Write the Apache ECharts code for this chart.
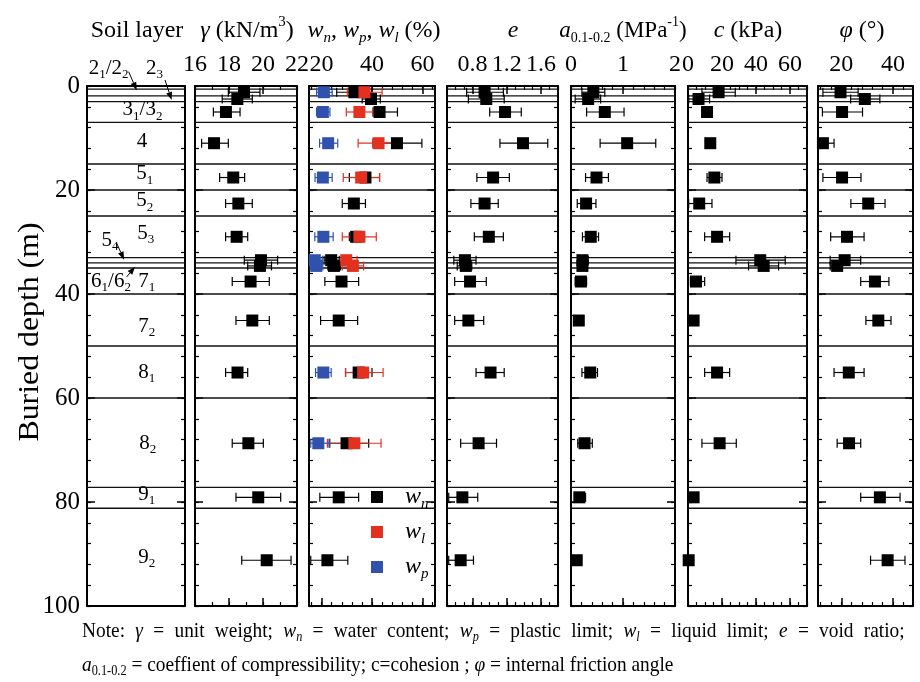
<!DOCTYPE html>
<html>
<head>
<meta charset="utf-8">
<script src="https://cdn.jsdelivr.net/npm/echarts@6.0.0/dist/echarts.min.js"></script>
<style>
html,body{margin:0;padding:0;background:#fff;}
#chart{width:920px;height:682px;}
</style>
</head>
<body>
<div id="chart"></div>
<script>
// ================= DATA =================
const depths = [1.2, 2.5, 5, 11, 17.6, 22.6, 29, 33.5, 34.6, 37.6, 45.1, 55.1, 68.7, 79.1, 91.2];

const gammaVal = [18.88, 18.49, 17.82, 17.12, 18.25, 18.55, 18.45, 19.88, 19.82, 19.27, 19.37, 18.50, 19.14, 19.72, 20.22];
const gammaLo  = [17.96, 17.60, 17.08, 16.39, 17.45, 17.80, 17.80, 18.90, 19.10, 18.19, 18.41, 17.80, 18.19, 18.41, 18.75];
const gammaHi  = [19.82, 19.37, 18.65, 17.96, 18.92, 19.37, 19.10, 20.86, 20.50, 20.37, 20.37, 19.10, 20.02, 21.04, 21.65];

const wnVal = [33.0, 39.6, 43.0, 49.9, 37.4, 32.8, 33.7, 23.8, 24.9, 27.9, 26.8, 34.7, 29.9, 26.8, 22.3];
const wnLo  = [26.0, 36.1, 40.4, 40.4, 31.0, 28.2, 31.0, 21.0, 22.5, 21.3, 19.6, 29.5, 23.0, 19.3, 15.7];
const wnHi  = [40.0, 43.3, 50.1, 59.8, 43.0, 37.4, 37.0, 27.0, 27.5, 34.7, 34.3, 40.0, 38.7, 34.7, 30.4];

const wlVal = [37.0, null, 35.0, 42.6, 35.7, null, 35.0, 29.8, 32.4, null, null, 36.5, 33.0, null, null];
const wlLo  = [30.2, null, 29.8, 34.5, 28.6, null, 28.2, 25.1, 28.2, null, null, 29.5, 22.3, null, null];
const wlHi  = [44.0, null, 40.4, 50.8, 43.0, null, 41.7, 34.1, 36.7, null, null, 44.4, 43.6, null, null];

const wpVal = [20.9, null, 20.5, 22.6, 20.5, null, 20.7, 17.3, 17.9, null, null, 20.7, 18.7, null, null];
const wpLo  = [18.0, null, 18.0, 19.2, 17.4, null, 17.3, 15.3, 15.5, null, null, 17.6, 15.7, null, null];
const wpHi  = [24.2, null, 23.3, 26.4, 24.2, null, 24.6, 20.3, 20.5, null, null, 23.8, 23.3, null, null];

const eVal = [0.94, 0.96, 1.18, 1.39, 1.04, 0.94, 0.99, 0.71, 0.72, 0.77, 0.75, 1.01, 0.87, 0.68, 0.66];
const eLo  = [0.73, 0.75, 1.00, 1.12, 0.85, 0.78, 0.82, 0.58, 0.62, 0.59, 0.59, 0.84, 0.66, 0.52, 0.52];
const eHi  = [1.16, 1.17, 1.37, 1.68, 1.23, 1.10, 1.16, 0.84, 0.79, 0.96, 0.93, 1.17, 1.08, 0.86, 0.81];

const aVal = [0.43, 0.33, 0.65, 1.08, 0.49, 0.29, 0.38, 0.22, 0.22, 0.19, 0.15, 0.37, 0.26, 0.16, 0.11];
const aLo  = [0.21, 0.08, 0.30, 0.56, 0.28, 0.12, 0.22, 0.15, 0.15, 0.08, 0.12, 0.21, 0.13, 0.08, 0.05];
const aHi  = [0.65, 0.57, 1.02, 1.63, 0.72, 0.48, 0.53, 0.33, 0.30, 0.30, 0.18, 0.51, 0.41, 0.28, 0.14];

const cVal = [18.0, 6.2, 11.2, 13.1, 15.5, 6.6, 17.1, 42.5, 44.5, 4.7, 3.3, 17.1, 18.6, 3.3, 0.4];
const cLo  = [8.2, 0.4, 10.6, 12.6, 11.2, 0.4, 9.8, 28.2, 35.6, 1.4, 1.3, 9.8, 8.2, 1.5, 0.0];
const cHi  = [27.8, 12.7, 11.8, 13.6, 20.0, 14.1, 24.5, 57.2, 53.3, 9.8, 5.3, 24.5, 28.4, 5.0, 0.8];

const phiVal = [19.7, 29.1, 20.3, 12.9, 20.3, 30.4, 22.2, 21.3, 18.4, 33.0, 34.3, 22.9, 23.0, 34.9, 37.9];
const phiLo  = [12.9, 23.6, 12.7, 11.0, 12.9, 23.7, 15.9, 15.7, 15.7, 27.5, 29.5, 17.2, 18.4, 27.5, 31.3];
const phiHi  = [26.5, 34.9, 28.2, 17.2, 27.6, 36.9, 28.8, 27.5, 20.4, 38.4, 39.2, 28.8, 27.5, 42.7, 44.6];

const layerBoundaries = [0.6, 1.9, 3.0, 7, 15, 20, 25, 33, 34, 35, 40, 50, 60, 77.2, 81.2];
const layerNames = ['2{s|1}{n|/2}{s|2}', '2{s|3}', '3{s|1}{n|/3}{s|2}', '4', '5{s|1}', '5{s|2}', '5{s|3}', '5{s|4}',
                    '6{s|1}{n|/6}{s|2}', '7{s|1}', '7{s|2}', '8{s|1}', '8{s|2}', '9{s|1}', '9{s|2}'];
const layerNameDepth = [-3.4, -3.4, 4.6, 10.7, 16.9, 22.1, 28.3, 29.7, 37.6, 37.6, 46.3, 55.1, 68.8, 78.5, 90.6];

const depthTicks = [0, 20, 40, 60, 80, 100];
const gammaTicks = [16, 18, 20, 22];
const wTicks = [20, 40, 60];
const eTicks = [0.8, 1.2, 1.6];
const aTicks = [0, 1, 2];
const cTicks = [0, 20, 40, 60];
const phiTicks = [20, 40];

// ================= LAYOUT / STYLE =================
const FONT = '"Liberation Serif","Times New Roman",serif';
const TOP = 86, HEIGHT = 520;
const RED = '#e3301f', BLUE = '#3052ad', BLACK = '#000';

function seq(a, b, s) { const r = []; for (let v = a; v <= b + 1e-9; v += s) r.push(+v.toFixed(6)); return r; }

function richSet(fs, spacePad) {
  const T = fs + 12, nc = 6 + fs / 2;
  const sfs = Math.round(fs * 0.62);
  const subTop = nc + 0.30 * fs - sfs / 2;
  const supTop = nc - 0.38 * fs - sfs / 2;
  const base = { fontFamily: FONT, color: '#000', fill: '#000' };
  const sp = spacePad || 0;
  return {
    n: Object.assign({}, base, { fontSize: fs, lineHeight: fs, padding: [6, 0, 6, 0] }),
    i: Object.assign({}, base, { fontSize: fs, fontStyle: 'italic', lineHeight: fs, padding: [6, 0, 6, 0] }),
    sp: Object.assign({}, base, { fontSize: fs, lineHeight: fs, padding: [6, sp, 6, sp] }),
    s: Object.assign({}, base, { fontSize: sfs, lineHeight: sfs, padding: [subTop, 0, T - sfs - subTop, 0] }),
    si: Object.assign({}, base, { fontSize: sfs, fontStyle: 'italic', lineHeight: sfs, padding: [subTop, 0, T - sfs - subTop, 0] }),
    p: Object.assign({}, base, { fontSize: sfs, lineHeight: sfs, padding: [supTop, 0, T - sfs - supTop, 0] })
  };
}

const panels = [
  { left: 87, width: 98, min: 0, max: 1, labels: [], minors: [], ticks: false },
  { left: 195, width: 102, min: 16, max: 22, labels: gammaTicks, minors: seq(16, 22, 1), ticks: true },
  { left: 309, width: 126, min: 15, max: 65, labels: wTicks, minors: seq(16, 64, 4), ticks: true },
  { left: 447, width: 111, min: 0.5, max: 1.8, labels: eTicks, minors: seq(0.5, 1.8, 0.1), ticks: true },
  { left: 571, width: 104, min: 0, max: 2, labels: aTicks, minors: seq(0, 2, 0.2), ticks: true },
  { left: 688, width: 119, min: 0, max: 70, labels: cTicks, minors: seq(0, 70, 5), ticks: true },
  { left: 818, width: 95, min: 11, max: 47.7, labels: phiTicks, minors: seq(12, 44, 4), ticks: true }
];

const grids = [], xAxes = [], yAxes = [], series = [];
const xIdx = [], yIdx = [];

panels.forEach((p, g) => {
  grids.push({ left: p.left, top: TOP, width: p.width, height: HEIGHT, containLabel: false, outerBoundsMode: 'none' });
  const xb = { gridIndex: g, type: 'value', min: p.min, max: p.max, splitLine: { show: false } };
  xIdx.push(xAxes.length);
  ['top', 'bottom'].forEach(pos => {
    xAxes.push(Object.assign({}, xb, {
      position: pos,
      axisLine: { show: true, onZero: false, lineStyle: { color: '#000', width: 2 } },
      axisTick: { show: p.ticks, inside: true, length: 8, customValues: p.labels, lineStyle: { color: '#000', width: 1.5 } },
      axisLabel: { show: p.ticks && pos === 'top', customValues: p.labels, margin: 9, fontSize: 24, fontFamily: FONT, color: '#000', showMinLabel: true, showMaxLabel: true }
    }));
    xAxes.push(Object.assign({}, xb, {
      position: pos,
      axisLine: { show: false, onZero: false },
      axisTick: { show: p.ticks, inside: true, length: 4, customValues: p.minors, lineStyle: { color: '#000', width: 1.2 } },
      axisLabel: { show: false }
    }));
  });
  const yb = { gridIndex: g, type: 'value', min: 0, max: 100, inverse: true, splitLine: { show: false } };
  yIdx.push(yAxes.length);
  ['left', 'right'].forEach(pos => {
    yAxes.push(Object.assign({}, yb, {
      position: pos,
      axisLine: { show: true, onZero: false, lineStyle: { color: '#000', width: 2 } },
      axisTick: { show: true, inside: true, length: 8, customValues: depthTicks, lineStyle: { color: '#000', width: 1.5 } },
      axisLabel: { show: g === 0 && pos === 'left', customValues: depthTicks, margin: 7, fontSize: 25, fontFamily: FONT, color: '#000', showMinLabel: true, showMaxLabel: true }
    }));
    yAxes.push(Object.assign({}, yb, {
      position: pos,
      axisLine: { show: false, onZero: false },
      axisTick: { show: true, inside: true, length: 4, customValues: seq(0, 100, 4), lineStyle: { color: '#000', width: 1.2 } },
      axisLabel: { show: false }
    }));
  });

  // layer boundary lines
  series.push({
    type: 'custom', xAxisIndex: xIdx[g], yAxisIndex: yIdx[g], silent: true, z: 1,
    data: layerBoundaries.map(d => [p.min, d]),
    encode: { x: 0, y: 1 },
    renderItem: function (params, api) {
      const cs = params.coordSys;
      const y = api.coord([api.value(0), api.value(1)])[1];
      return { type: 'line', shape: { x1: cs.x, y1: y, x2: cs.x + cs.width, y2: y }, style: { stroke: '#111', lineWidth: 1.3 } };
    }
  });
});

function addPoints(g, val, lo, hi, color, name) {
  const errData = [], ptData = [];
  depths.forEach((d, k) => {
    if (val[k] == null) return;
    errData.push([lo[k], hi[k], d]);
    ptData.push([val[k], d]);
  });
  series.push({
    type: 'custom', name: name + '-err', xAxisIndex: xIdx[g], yAxisIndex: yIdx[g], silent: true, z: 2, clip: true,
    data: errData, encode: { x: [0, 1], y: 2 },
    renderItem: function (params, api) {
      const p1 = api.coord([api.value(0), api.value(2)]);
      const p2 = api.coord([api.value(1), api.value(2)]);
      const h = 4.5, st = { stroke: color, lineWidth: 1.2 };
      return { type: 'group', children: [
        { type: 'line', shape: { x1: p1[0], y1: p1[1], x2: p2[0], y2: p2[1] }, style: st },
        { type: 'line', shape: { x1: p1[0], y1: p1[1] - h, x2: p1[0], y2: p1[1] + h }, style: st },
        { type: 'line', shape: { x1: p2[0], y1: p2[1] - h, x2: p2[0], y2: p2[1] + h }, style: st }
      ] };
    }
  });
  series.push({
    type: 'scatter', name: name, xAxisIndex: xIdx[g], yAxisIndex: yIdx[g], z: 3, silent: true,
    symbol: 'rect', symbolSize: 12, itemStyle: { color: color, opacity: 1 },
    data: ptData
  });
}

addPoints(1, gammaVal, gammaLo, gammaHi, BLACK, 'gamma');
addPoints(2, wnVal, wnLo, wnHi, BLACK, 'wn');
addPoints(2, wlVal, wlLo, wlHi, RED, 'wl');
addPoints(2, wpVal, wpLo, wpHi, BLUE, 'wp');
addPoints(3, eVal, eLo, eHi, BLACK, 'e');
addPoints(4, aVal, aLo, aHi, BLACK, 'a');
addPoints(5, cVal, cLo, cHi, BLACK, 'c');
addPoints(6, phiVal, phiLo, phiHi, BLACK, 'phi');

// soil layer names (placed through the soil panel's scales)
const layerLabelX = [0.22, 0.69, 0.566, 0.56, 0.59, 0.59, 0.60, 0.235, 0.245, 0.61, 0.61, 0.61, 0.62, 0.61, 0.61];
const layerRich = richSet(21);
series.push({
  type: 'custom', xAxisIndex: xIdx[0], yAxisIndex: yIdx[0], silent: true, clip: false, z: 4,
  data: layerNameDepth.map((d, k) => [layerLabelX[k], d]), encode: { x: 0, y: 1 },
  renderItem: function (params, api) {
    const pt = api.coord([api.value(0), api.value(1)]);
    return {
      type: 'text', x: pt[0], y: pt[1],
      style: {
        text: '{n|' + layerNames[params.dataIndex].replace(/^([^{]*)/, '$1}'),
        rich: layerRich, fill: '#000', align: 'center', verticalAlign: 'middle', textAlign: 'center', textVerticalAlign: 'middle'
      }
    };
  }
});
// arrows pointing to thin layers: [xStart, depthStart, xEnd, depthEnd] in soil-panel coordinates
const arrowLayout = [[0.425, -2.75, 0.507, 0.8], [0.796, -1.15, 0.864, 2.7], [0.303, 30.25, 0.378, 33.4], [0.405, 36.7, 0.49, 34.75]];
series.push({
  type: 'custom', xAxisIndex: xIdx[0], yAxisIndex: yIdx[0], silent: true, clip: false, z: 4,
  data: arrowLayout, encode: { x: [0, 2], y: [1, 3] },
  renderItem: function (params, api) {
    const a = api.coord([api.value(0), api.value(1)]);
    const b = api.coord([api.value(2), api.value(3)]);
    const dx = b[0] - a[0], dy = b[1] - a[1], L = Math.sqrt(dx * dx + dy * dy);
    const ux = dx / L, uy = dy / L, hl = 8, hw = 3;
    const bx = b[0] - ux * hl, by = b[1] - uy * hl;
    return { type: 'group', children: [
      { type: 'line', shape: { x1: a[0], y1: a[1], x2: bx, y2: by }, style: { stroke: '#000', lineWidth: 1 } },
      { type: 'polygon', shape: { points: [[b[0], b[1]], [bx - uy * hw, by + ux * hw], [bx + uy * hw, by - ux * hw]] }, style: { fill: '#000' } }
    ] };
  }
});

function gtext(x, y, text, fs, extra, spacePad) {
  return Object.assign({
    type: 'text', x: x, y: y, silent: true,
    style: { text: text, rich: richSet(fs, spacePad), align: 'center', verticalAlign: 'middle', textAlign: 'center', textVerticalAlign: 'middle' }
  }, extra || {});
}
function gtextL(x, y, text, fs, extra, spacePad) {
  const o = gtext(x, y, text, fs, extra, spacePad);
  o.style.align = 'left'; o.style.textAlign = 'left';
  return o;
}
// widen the word spaces (justified first line of the note)
function justify(str) {
  return str.replace(/\{n\|([^}]*)\}/g, (m, t) => '{n|' + t.split(' ').join('}{sp| }{n|') + '}');
}

const graphics = [
  gtext(137, 31, '{n|Soil layer}', 24),
  gtext(247, 31, '{i|γ}{n| (kN/m}{p|3}{n|)}', 24),
  gtext(374, 31, '{i|w}{si|n}{n|, }{i|w}{si|p}{n|, }{i|w}{si|l}{n| (%)}', 24),
  gtext(513, 31, '{i|e}', 24),
  gtext(623, 31, '{i|a}{s|0.1-0.2}{n| (MPa}{p|-1}{n|)}', 23),
  gtext(748, 31, '{i|c}{n| (kPa)}', 24),
  gtext(862, 31, '{i|φ}{n| (°)}', 24),
  gtext(30, 332, '{n|Buried depth (m)}', 30, { rotation: Math.PI / 2, scaleX: 1.06 }),
  gtextL(82, 631, justify('{n|Note: }{i|γ}{n| = unit weight; }{i|w}{si|n}{n| = water content; }{i|w}{si|p}{n| = plastic limit; }{i|w}{si|l}{n| = liquid limit; }{i|e}{n| = void ratio;}'), 22, { scaleX: 0.88 }, 3.1),
  gtextL(82, 665, '{i|a}{s|0.1-0.2}{n| = coeffient of compressibility; c=cohesion ; }{i|φ}{n| = internal friction angle}', 22, { scaleX: 0.88 })
];

const legRich = richSet(24);
legRich.i.padding = [6, 0, 6, 17];

const option = {
  animation: false,
  backgroundColor: '#fff',
  grid: grids,
  xAxis: xAxes,
  yAxis: yAxes,
  series: series,
  legend: {
    data: ['wn', 'wl', 'wp'], left: 371, top: 479, padding: 0, orient: 'vertical', icon: 'rect',
    itemWidth: 12, itemHeight: 12, itemGap: -1, selectedMode: false,
    formatter: n => ({ wn: '{i|w}{si|n}', wl: '{i|w}{si|l}', wp: '{i|w}{si|p}' })[n],
    textStyle: { color: '#000', rich: legRich }
  },
  graphic: graphics
};

const chart = echarts.init(document.getElementById('chart'));
chart.setOption(option);
</script>
</body>
</html>
